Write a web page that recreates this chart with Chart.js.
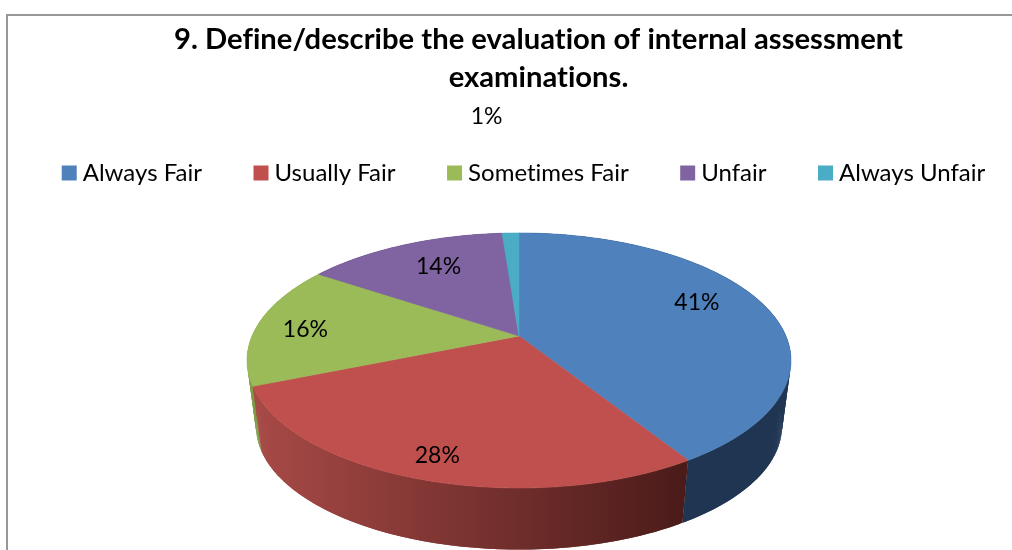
<!DOCTYPE html>
<html>
<head>
<meta charset="utf-8">
<style>
  html, body { margin: 0; padding: 0; background: #fff; overflow: hidden; }
  #wrap { width: 1012px; height: 550px; }
</style>
<script src="https://cdn.jsdelivr.net/npm/chart.js@4/dist/chart.umd.min.js"></script>
</head>
<body>
<div id="wrap"><canvas id="pie" width="1012" height="550"></canvas></div>
<script>
const titleLines = ["9. Define/describe the evaluation of internal assessment", "examinations."];
const categories = ["Always Fair", "Usually Fair", "Sometimes Fair", "Unfair", "Always Unfair"];
// estimated from the slice edges, they round to the printed 41/28/16/14/1
const shares = [41.1, 27.7, 15.6, 14.4, 1.2];

const topColors = ["#4f81bd", "#c0504d", "#9bbb59", "#8064a2", "#4bacc6"];
// left and right colour of each slice's outer wall
const wallColors = [
  ["#1f3552", "#1f3552"],
  ["#a84a47", "#4a1b19"],
  ["#7d9a44", "#7d9a44"],
  ["#5c4776", "#5c4776"],
  ["#2f7f95", "#2f7f95"]
];
// pixel nudge of each % label away from its default spot on the slice
const labelNudge = [[0, -10], [-14, 23], [-25, 2], [6, -1], [-26, -142]];

// the 3D look: a tilted circle seen in perspective, so the centre sits above the ellipse centre
const view = { x: 519, y: 336, a: 266.9, b: 122.8, w: 0.192, floorY: 402.6, floorScale: 0.967 };

// angle measured clockwise from 12 o'clock, r = 1 on the rim
function project(theta, r, floor) {
  const X = r * Math.sin(theta), Y = r * Math.cos(theta);
  const d = 1 + view.w * Y;
  const s = floor ? view.floorScale : 1;
  return {
    x: view.x + s * view.a * X / d,
    y: (floor ? view.floorY : view.y) - s * view.b * Y / d
  };
}

function traceRim(ctx, from, to) {
  const steps = Math.max(2, Math.ceil(Math.abs(to - from) / 0.01));
  for (let i = 0; i <= steps; i++) {
    const p = project(from + (to - from) * i / steps, 1, false);
    ctx.lineTo(p.x, p.y);
  }
}

// the wall is swept in small overlapping quads so its silhouette runs straight from rim to floor
function fillWall(ctx, from, to) {
  const steps = Math.max(2, Math.ceil((to - from) / 0.01));
  for (let i = 0; i < steps; i++) {
    const t0 = from + (to - from) * i / steps;
    const t1 = from + (to - from) * Math.min(i + 2, steps) / steps;
    const a = project(t0, 1, false), b = project(t1, 1, false);
    const c = project(t1, 1, true), d = project(t0, 1, true);
    ctx.beginPath();
    ctx.moveTo(a.x, a.y);
    ctx.lineTo(b.x, b.y);
    ctx.lineTo(c.x, c.y);
    ctx.lineTo(d.x, d.y);
    ctx.closePath();
    ctx.fill();
  }
}

const pie3d = {
  id: "pie3d",
  beforeLayout(chart) {
    // a tiny spacing switches off the Lato ligatures (ti, fi), the original has none
    chart.ctx.letterSpacing = "0.01px";
  },
  afterLayout(chart) {
    // the original title is right of centre
    chart.titleBlock.left += 32.5;
    chart.titleBlock.right += 32.5;
    // the legend's gaps need a bit more room than the canvas gives it, keep it on one row
    const legend = chart.legend;
    legend.maxWidth = 1100;
    legend.fit();
    legend.left = -47;
    legend.right = 1100;
  },
  beforeDraw(chart) {
    // frame of the original chart, cut off by the crop on the right and at the bottom
    const ctx = chart.ctx;
    ctx.save();
    ctx.strokeStyle = "#979797";
    ctx.lineWidth = 2;
    ctx.beginPath();
    ctx.moveTo(7, 550);
    ctx.lineTo(7, 15);
    ctx.lineTo(1012, 15);
    ctx.stroke();
    ctx.restore();
  },
  beforeDatasetsDraw(chart) {
    const ctx = chart.ctx;
    const arcs = chart.getDatasetMeta(0).data;
    const angles = arcs.map(arc => [arc.startAngle + Math.PI / 2, arc.endAngle + Math.PI / 2]);
    ctx.save();

    // outer walls first, farthest slice first, the top covers whatever is behind it
    const backToFront = angles.map((_, i) => i).sort((p, q) =>
      Math.cos((angles[q][0] + angles[q][1]) / 2) - Math.cos((angles[p][0] + angles[p][1]) / 2));
    backToFront.forEach(i => {
      const [from, to] = angles[i];
      const left = project(i === 1 ? to : from, 1, false).x;
      const right = project(i === 1 ? from : to, 1, false).x;
      const fill = ctx.createLinearGradient(left, 0, right, 0);
      fill.addColorStop(0, wallColors[i][0]);
      fill.addColorStop(1, wallColors[i][1]);
      ctx.fillStyle = fill;
      fillWall(ctx, from, to);
    });

    // slice tops
    ctx.lineWidth = 0.6;
    angles.forEach(([from, to], i) => {
      ctx.fillStyle = topColors[i];
      ctx.strokeStyle = topColors[i];
      ctx.beginPath();
      ctx.moveTo(view.x, view.y);
      traceRim(ctx, from, to);
      ctx.closePath();
      ctx.fill();
      ctx.stroke();
    });

    // % labels
    ctx.fillStyle = "#000";
    ctx.font = "23px Lato";
    ctx.textAlign = "center";
    ctx.textBaseline = "middle";
    angles.forEach(([from, to], i) => {
      const p = project((from + to) / 2, 0.72, false);
      ctx.fillText(Math.round(shares[i]) + "%", p.x + labelNudge[i][0], p.y + labelNudge[i][1]);
    });

    ctx.restore();
    return false; // the flat arcs are replaced by the drawing above
  }
};

new Chart(document.getElementById("pie"), {
  type: "pie",
  data: {
    labels: categories,
    datasets: [{ data: shares, backgroundColor: topColors, borderWidth: 0 }]
  },
  plugins: [pie3d],
  options: {
    responsive: false,
    animation: false,
    rotation: 0,
    layout: { padding: { top: 21, left: 0, right: 0, bottom: 0 } },
    plugins: {
      tooltip: { enabled: false },
      title: {
        display: true,
        text: titleLines,
        color: "#000",
        font: { family: "Lato", size: 29.2, weight: "bold", lineHeight: 1.3 },
        padding: { top: 0, bottom: 6.5 }
      },
      legend: {
        position: "top",
        labels: {
          color: "#000",
          font: { family: "Lato", size: 24 },
          usePointStyle: true,
          pointStyle: "rect",
          boxWidth: 3,
          boxHeight: 15,
          padding: 57.5
        }
      }
    }
  }
});
</script>
</body>
</html>
